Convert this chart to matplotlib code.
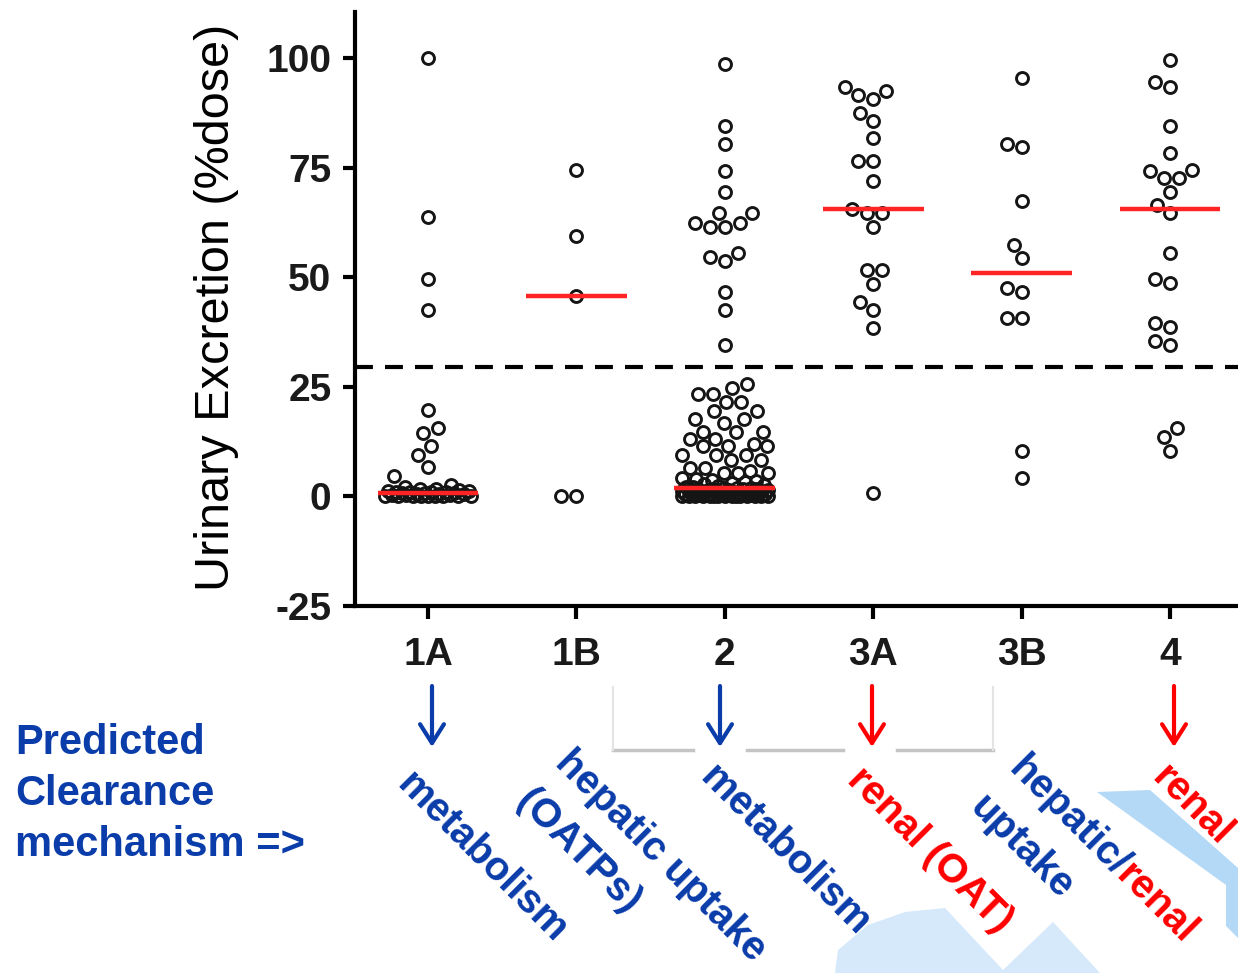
import matplotlib
matplotlib.use("Agg")
import matplotlib.pyplot as plt
import numpy as np
from matplotlib.patches import Polygon, FancyArrowPatch
from matplotlib.lines import Line2D

# categories and values (% dose excreted in urine)
groups = ["1A", "1B", "2", "3A", "3B", "4"]

g1a = [100, 63.7, 49.5, 42.5, 19.6, 15.5, 14.4, 11.4, 9.4, 6.8, 4.6, 2.5, 2.2, 1.8,
       1.6, 1.4, 1.3, 1.2, 1.1, 1.0, 1.0, 0.9, 0.8, 0.7, 0.7, 0.6, 0.5, 0.5, 0.4, 0.3,
       0.3, 0.2, 0.2, 0.1, 0.1, 0.1, 0.0, 0.0, 0.0, 0.0]
g1b = [74.4, 59.4, 45.7, 0.0, 0.0]
g2 = [98.6, 84.5, 80.4, 74.2, 69.4, 64.6, 64.6, 62.3, 62.3, 61.4, 61.4, 55.5, 54.6,
      53.7, 46.6, 42.5, 34.5,
      25.6, 24.7, 23.3, 23.3, 21.5, 21.5, 19.4, 19.4, 17.6, 17.6, 16.7, 14.6, 14.6,
      14.6, 13.2, 13.2, 11.9, 11.6, 11.4, 11.4, 9.4, 9.4, 9.4, 8.2, 8.2, 6.4, 6.4,
      5.9, 5.3, 5.3, 5.3, 4.2, 4.0, 3.8, 3.5, 3.2, 3.0, 2.8, 2.6, 2.4,
      2.2, 2.1, 2.0, 2.0, 1.9, 1.8, 1.8, 1.7, 1.6, 1.5, 1.5, 1.4, 1.3, 1.2, 1.2,
      1.1, 1.0, 1.0, 0.9, 0.9, 0.8, 0.8, 0.7, 0.7, 0.6, 0.6, 0.5, 0.5, 0.5, 0.4,
      0.4, 0.4, 0.3, 0.3, 0.3, 0.2, 0.2, 0.2, 0.2, 0.1, 0.1, 0.1, 0.1, 0.1, 0.0,
      0.0, 0.0, 0.0, 0.0, 0.0]
g3a = [93.4, 92.5, 91.6, 90.6, 87.4, 85.6, 81.7, 76.5, 76.5, 71.9, 65.5, 64.6, 64.6,
       61.4, 51.6, 51.6, 48.4, 44.3, 42.5, 38.4, 0.7]
g3b = [95.4, 80.4, 79.7, 67.4, 57.3, 54.3, 47.5, 46.6, 40.6, 40.6, 10.3, 4.3]
g4 = [99.5, 94.5, 93.4, 84.5, 78.3, 74.4, 74.2, 72.6, 72.6, 69.4, 66.4, 64.6, 55.5,
      49.5, 48.6, 39.5, 38.6, 35.4, 34.5, 15.5, 13.5, 10.3]
medians = [0.7, 45.7, 2.0, 65.6, 51.0, 65.6]
cutoff = 29.5

yticks = [-25, 0, 25, 50, 75, 100]

blue = "#0a3caa"
red = "#ff0000"

W, H = 1238, 973
plt.rcParams["font.family"] = ["Liberation Sans", "DejaVu Sans"]
fig = plt.figure(figsize=(W / 100, H / 100), dpi=100)


def fx(x):
    return x / W


def fy(y):
    return 1 - y / H


ax = fig.add_axes([fx(355), fy(606), 1 - fx(355), (606 - 12) / H])
ax.set_xlim(-0.492, 5.458)
ax.set_ylim(-25, 110.5)


def swarm(vals, xc, diam=15.0, cap=43):
    # simple beeswarm: offsets worked out in pixels, turned back into data units
    vals = np.asarray(vals, float)
    ypx = ax.transData.transform(np.column_stack([np.full(len(vals), xc), vals]))[:, 1]
    ppu = ax.transData.transform((1, 0))[0] - ax.transData.transform((0, 0))[0]
    cands = np.arange(-cap, cap + 0.5, 1.0)
    cands = cands[np.argsort(np.abs(cands), kind="stable")]
    offs = np.zeros(len(vals))
    px, py = [], []
    for i in np.argsort(vals, kind="stable"):
        c = 0.0
        if px:
            d = np.hypot(cands[:, None] - np.array(px)[None, :],
                         ypx[i] - np.array(py)[None, :]).min(axis=1)
            ok = np.nonzero(d >= diam)[0]
            c = cands[ok[0]] if len(ok) else cands[np.argmax(d)]
        offs[i] = c
        px.append(c)
        py.append(ypx[i])
    return xc + offs / ppu, vals


data = [g1a, g1b, g2, g3a, g3b, g4]
for i, vals in enumerate(data):
    xs, ys = swarm(vals, i)
    ax.plot(xs, ys, "o", mfc="none", mec="#151515", ms=8.6, mew=2.1, zorder=3)

ax.hlines(medians, np.arange(6) - 0.34, np.arange(6) + 0.34, color="#ff2424",
          lw=3.2, zorder=4)
ax.axhline(cutoff, color="black", lw=3, dashes=(4.3, 2.9), zorder=2)

for s in ["top", "right"]:
    ax.spines[s].set_visible(False)
for s in ["left", "bottom"]:
    ax.spines[s].set_linewidth(3)
ax.set_xticks(range(6), groups, fontweight="bold")
ax.set_yticks(yticks, [str(v) for v in yticks], fontweight="bold")
ax.tick_params(axis="both", direction="out", length=9, width=3, labelsize=28,
               labelcolor="#1a1a1a")
ax.tick_params(axis="y", pad=8)
ax.tick_params(axis="x", pad=13)

fig.text(fx(217), fy(307), "Urinary Excretion (%dose)", rotation=90, ha="center",
         va="center", fontsize=35, color="black")

# decorative light blue shapes from the slide
fig.add_artist(Polygon([(fx(x), fy(y)) for x, y in
                        [(1097, 792), (1150, 790), (1238, 868), (1238, 938),
                         (1226, 926), (1226, 885)]],
                       closed=True, transform=fig.transFigure, fc="#b3d9f7",
                       ec="none", zorder=0.5))
fig.add_artist(Polygon([(fx(x), fy(y)) for x, y in
                        [(835, 973), (838, 950), (868, 925), (905, 912), (945, 908),
                         (1003, 970), (1053, 922), (1100, 973)]],
                       closed=True, transform=fig.transFigure, fc="#d6e9fb",
                       ec="none", zorder=0.5))

# callout box shadow
for x0, x1 in [(613, 693), (747, 843), (897, 993)]:
    fig.add_artist(Line2D([fx(x0), fx(x1)], [fy(750), fy(750)],
                          transform=fig.transFigure, color="#c4c4c4", lw=2.5))
for xe in [613, 993]:
    fig.add_artist(Line2D([fx(xe), fx(xe)], [fy(687), fy(750)],
                          transform=fig.transFigure, color="#e4e4e4", lw=1.5))

# arrows down to the predicted mechanism
for x, col in [(432, blue), (720, blue), (872, red), (1174, red)]:
    fig.add_artist(FancyArrowPatch((fx(x), fy(686)), (fx(x), fy(747)),
                                   transform=fig.transFigure,
                                   arrowstyle="->,head_length=0.68,head_width=0.43",
                                   mutation_scale=20, lw=3, color=col,
                                   shrinkA=0, shrinkB=0, zorder=2))

for k, line in enumerate(["Predicted", "Clearance", "mechanism =>"]):
    fig.text(fx(15), fy(754 + 51 * k), line, ha="left", va="baseline",
             fontsize=30, fontweight="bold", color=blue)

renderer = fig.canvas.get_renderer()
c45 = np.cos(np.deg2rad(45))


def diag(x, y, parts, size=29):
    for s, col in parts:
        fig.text(fx(x), fy(y), s, rotation=-45, rotation_mode="anchor", ha="left",
                 va="baseline", fontsize=size, fontweight="bold", color=col)
        tmp = fig.text(0, 0, s, fontsize=size, fontweight="bold")
        w = tmp.get_window_extent(renderer).width
        tmp.remove()
        x += w * c45
        y += w * c45


diag(395, 786, [("metabolism", blue)])
diag(554, 764, [("hepatic uptake", blue)])
diag(515, 803, [("(OATPs)", blue)])
diag(698, 779, [("metabolism", blue)])
diag(846, 781, [("renal (OAT)", red)])
diag(1007, 770, [("hepatic/", blue), ("renal", red)])
diag(968, 809, [("uptake", blue)])
diag(1150, 779, [("renal", red)])

fig.savefig("out.png", dpi=100)
